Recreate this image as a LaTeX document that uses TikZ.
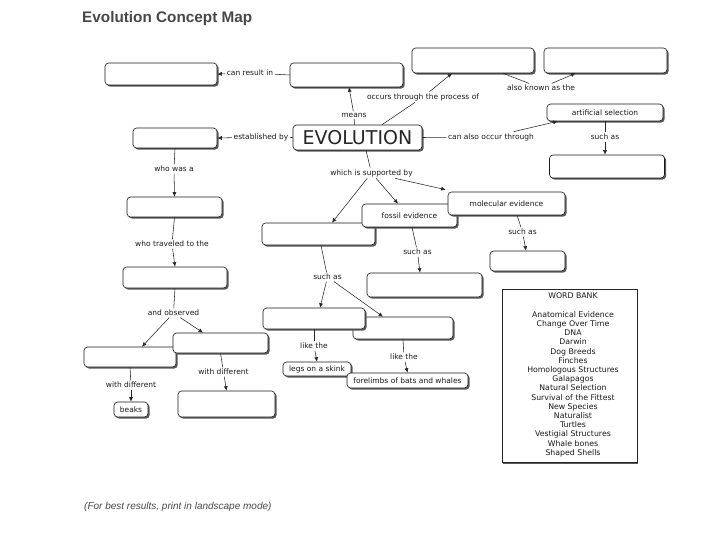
\documentclass[tikz,border=0pt]{standalone}
\usepackage{fontspec}
\setmainfont{DejaVu Sans}
\newfontfamily\titlefont{Liberation Sans}
\usetikzlibrary{arrows.meta,shadows,calc}
\tikzset{
  box/.style={draw=black!90, line width=0.6pt, fill=white, rounded corners=3.5pt,
    drop shadow={shadow xshift=1.6pt, shadow yshift=-1.6pt, fill=black!65, opacity=1},
    inner sep=1pt, font=\fontsize{7.5}{8.5}\selectfont, text=black!90},
  lbl/.style={font=\fontsize{7.5}{8.5}\selectfont, inner sep=1.5pt, text=black!90},
  con/.style={draw=black!85, line width=0.55pt},
  arr/.style={con, -{Latex[length=4.5pt,width=4pt]}},
}
\begin{document}
\begin{tikzpicture}[x=1pt,y=-1pt]
\useasboundingbox (0,0) rectangle (720,540);
% title and footer
\node[anchor=base west, inner sep=0, font=\titlefont\bfseries\fontsize{15.3}{18}\selectfont, text=black!72] (title) at (82,23) {Evolution Concept Map};
\node[anchor=base west, inner sep=0, font=\titlefont\itshape\fontsize{10}{12}\selectfont, text=black!72] (foot) at (84,509) {(For best results, print in landscape mode)};
% boxes
\node[box, minimum width=112pt, minimum height=22pt] (A) at (161,74) {};
\node[box, minimum width=113pt, minimum height=24pt] (B) at (346.5,75) {};
\node[box, minimum width=122pt, minimum height=25pt] (C) at (473,60.5) {};
\node[box, minimum width=123pt, minimum height=25pt] (D) at (605.5,60.5) {};
\node[box, minimum width=116pt, minimum height=17pt] (art) at (605,112.5) {artificial selection};
\node[box, minimum width=115pt, minimum height=23pt] (E) at (607,166.5) {};
\node[box, minimum width=129pt, minimum height=25pt, font=\fontsize{19}{20}\selectfont, text=black!85] (evo) at (357.5,137.5) {EVOLUTION};
\node[box, minimum width=84pt, minimum height=20pt] (F) at (175,138) {};
\node[box, minimum width=95pt, minimum height=20pt] (G) at (174.5,207) {};
\node[box, minimum width=104pt, minimum height=21pt] (H) at (175,277.5) {};
\node[box, minimum width=92pt, minimum height=20pt] (I) at (130,357) {};
\node[box, minimum width=95pt, minimum height=20pt] (J) at (220.5,343) {};
\node[box, minimum width=34pt, minimum height=15pt] (beaks) at (131,409.5) {beaks};
\node[box, minimum width=97pt, minimum height=26pt] (K) at (226.5,404) {};
\node[box, minimum width=113pt, minimum height=22pt] (L) at (318.5,234) {};
\node[box, minimum width=95pt, minimum height=23pt] (fossil) at (409.5,215.5) {fossil evidence};
\node[box, minimum width=117pt, minimum height=23pt] (molec) at (506.5,203.5) {molecular evidence};
\node[box, minimum width=115pt, minimum height=24pt] (M) at (424.5,285) {};
\node[box, minimum width=75pt, minimum height=20pt] (N) at (527.5,261) {};
\node[box, minimum width=100pt, minimum height=22pt] (P) at (403,328) {};
\node[box, minimum width=102pt, minimum height=21pt] (O) at (314,318.5) {};
\node[box, minimum width=68pt, minimum height=14pt] (legs) at (317,369) {legs on a skink};
\node[box, minimum width=121pt, minimum height=15pt] (fore) at (407.5,380.5) {forelimbs of bats and whales};
% word bank
\node[draw=black!85, line width=0.6pt, fill=white, minimum width=135pt, minimum height=173pt, anchor=north west,
  drop shadow={shadow xshift=0.8pt, shadow yshift=-1.2pt, fill=black!65, opacity=1}] (bank) at (502,289) {};
\node[anchor=north, inner sep=0, align=center, font=\fontsize{7.8}{9.2}\selectfont, text=black!90] (banktext) at (573,293)
 {WORD BANK\\[9.2pt]Anatomical Evidence\\Change Over Time\\DNA\\Darwin\\Dog Breeds\\Finches\\Homologous Structures\\Galapagos\\Natural Selection\\Survival of the Fittest\\New Species\\Naturalist\\Turtles\\Vestigial Structures\\Whale bones\\Shaped Shells};
% labels
\node[lbl] (l1) at (250,73) {can result in};
\node[lbl] (l2) at (261,137) {established by};
\node[lbl] (l3) at (354,115) {means};
\node[lbl] (l4) at (423,97) {occurs through the process of};
\node[lbl] (l5) at (541,88) {also known as the};
\node[lbl] (l6) at (491,137) {can also occur through};
\node[lbl] (l7) at (605,137) {such as};
\node[lbl] (l8) at (174,169) {who was a};
\node[lbl] (l9) at (172,244) {who traveled to the};
\node[lbl] (l10) at (173.5,313) {and observed};
\node[lbl] (l11) at (131,385) {with different};
\node[lbl] (l12) at (223.5,372) {with different};
\node[lbl] (l13) at (371.5,173) {which is supported by};
\node[lbl] (l14) at (417.5,252) {such as};
\node[lbl] (l15) at (522.5,232) {such as};
\node[lbl] (l16) at (327.5,277) {such as};
\node[lbl] (l17) at (314,346) {like the};
\node[lbl] (l18) at (404,357) {like the};
% connectors
\draw[con] (B.west) -- (l1); \draw[arr] (l1) -- (A.east);
\draw[con] (evo.west) -- (l2); \draw[arr] (l2) -- (F.east);
\draw[con] ([xshift=-3pt]evo.north) -- (l3); \draw[arr] (l3) -- ([xshift=2.5pt]B.south);
\draw[con] ([xshift=24.5pt]evo.north) -- (l4); \draw[arr] (l4) -- ([xshift=-21pt]C.south);
\draw[con] ([xshift=30pt]C.south) -- (l5); \draw[arr] (l5) -- ([xshift=-30pt]D.south);
\draw[con] (evo.east) -- (l6); \draw[arr] (l6) -- ([xshift=11pt]art.south west);
\draw[con] (art.south) -- (l7); \draw[arr] (l7) -- (l7 |- E.north);
\draw[con] (F.south) -- (l8); \draw[arr] (l8) -- (G.north);
\draw[con] (G.south) -- (l9); \draw[arr] (l9) -- (H.north);
\draw[con] (H.south) -- (l10);
\draw[arr] (l10) -- ([xshift=12pt]I.north);
\draw[arr] (l10) -- ([xshift=-17.5pt]J.north);
\draw[con] (I.south) -- (l11); \draw[arr] (l11) -- (beaks.north);
\draw[con] (J.south) -- (l12); \draw[arr] (l12) -- (K.north);
\draw[con] ([xshift=8.5pt]evo.south) -- (l13);
\draw[arr] (l13) -- ([xshift=13.5pt]L.north);
\draw[arr] (l13) -- ([xshift=-11.5pt]fossil.north);
\draw[arr] (l13) -- ([xshift=-2pt,yshift=2pt]molec.north west);
\draw[con] ([xshift=2.5pt]fossil.south) -- (l14); \draw[arr] (l14) -- ([xshift=-4.5pt]M.north);
\draw[con] ([xshift=10.5pt]molec.south) -- (l15); \draw[arr] (l15) -- ([xshift=-1.5pt]N.north);
\draw[con] ([xshift=2.5pt]L.south) -- (l16);
\draw[arr] (l16) -- ([xshift=6pt]O.north);
\draw[arr] (l16) -- ([xshift=-20pt]P.north);
\draw[con] (O.south) -- (l17); \draw[arr] (l17) -- (legs.north);
\draw[con] (P.south) -- (l18); \draw[arr] (l18) -- (fore.north);
\end{tikzpicture}
\end{document}
